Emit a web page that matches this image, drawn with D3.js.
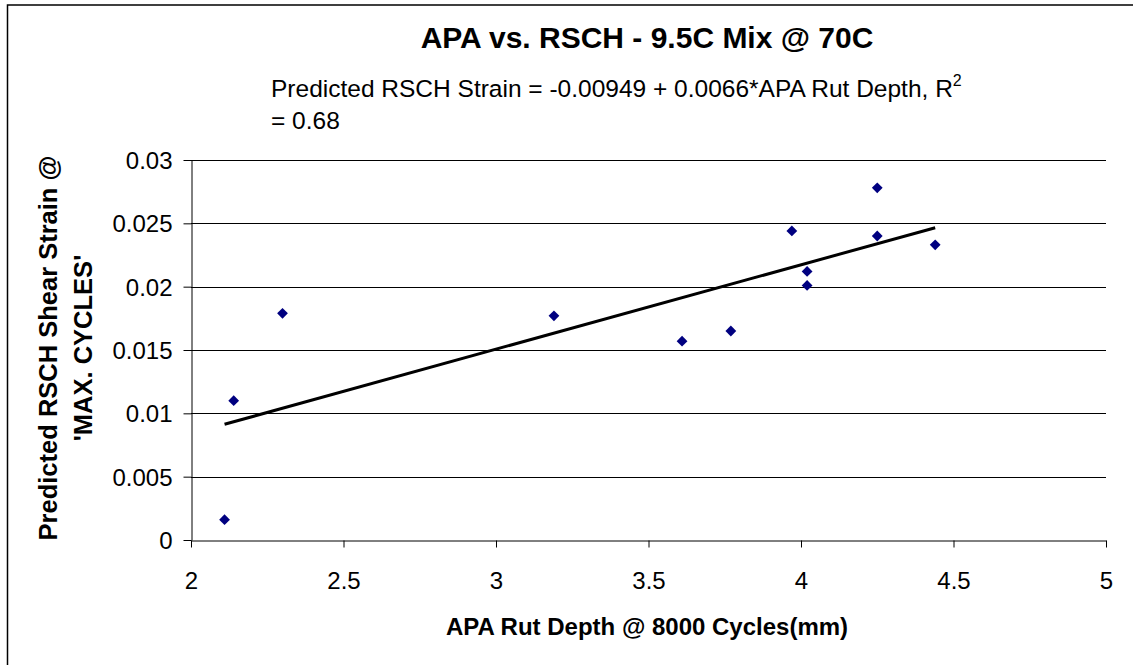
<!DOCTYPE html>
<html>
<head>
<meta charset="utf-8">
<script src="https://cdn.jsdelivr.net/npm/d3@7"></script>
<style>
  body { margin: 0; background: #fff; }
  text { font-family: "Liberation Sans", Arial, sans-serif; fill: #000; }
</style>
</head>
<body>
<svg id="chart"></svg>
<script>
// APA rut depth (mm) vs predicted RSCH shear strain
var rutDepth = [2.11, 2.14, 2.30, 3.19, 3.61, 3.77, 3.97, 4.02, 4.02, 4.25, 4.25, 4.44];
var strain   = [0.0016, 0.0110, 0.0179, 0.0177, 0.0157, 0.0165, 0.0244, 0.0212, 0.0201, 0.0278, 0.0240, 0.0233];
var xTicks = [2, 2.5, 3, 3.5, 4, 4.5, 5];
var yTicks = [0, 0.005, 0.01, 0.015, 0.02, 0.025, 0.03];

var width = 1133, height = 665;
var plotL = 191, plotR = 1106, plotT = 160, plotB = 540;

var svg = d3.select("#chart")
    .attr("width", width)
    .attr("height", height)

// outer chart frame (runs off the right / bottom edge)
svg.append("rect")
    .attr("x", 7.5).attr("y", 5)
    .attr("width", 1140).attr("height", 680)
    .style("fill", "none")
    .style("stroke", "#000")
    .style("stroke-width", 1.5)

var x = d3.scaleLinear().domain([2, 5]).range([plotL, plotR])
var y = d3.scaleLinear().domain([0, 0.03]).range([plotB, plotT])

// gridlines
svg.append("g")
    .selectAll("line")
    .data(yTicks.filter(function(d){ return d > 0; }))
    .enter()
    .append("line")
    .attr("x1", plotL).attr("x2", plotR)
    .attr("y1", function(d){ return Math.round(y(d)) + 0.5; })
    .attr("y2", function(d){ return Math.round(y(d)) + 0.5; })
    .style("stroke", "#000")
    .style("stroke-width", 1)

// axes
var xAxis = svg.append("g")
    .attr("transform", "translate(0," + (plotB + 0.5) + ")")
    .call(d3.axisBottom(x).tickValues(xTicks).tickSize(7).tickSizeOuter(0).tickFormat(d3.format("")))
var yAxis = svg.append("g")
    .attr("transform", "translate(" + (plotL + 0.5) + ",0)")
    .call(d3.axisLeft(y).tickValues(yTicks).tickSize(8).tickSizeOuter(0).tickFormat(d3.format("")))

xAxis.selectAll("path, line").style("stroke", "#000")
yAxis.selectAll("path, line").style("stroke", "#000")
xAxis.selectAll("text")
    .attr("dy", null).attr("y", 48)
    .style("font-size", "24px")
    .style("font-family", "Liberation Sans, Arial, sans-serif")
yAxis.selectAll("text")
    .attr("x", -19).attr("dy", "0.35em")
    .style("font-size", "24px")
    .style("font-family", "Liberation Sans, Arial, sans-serif")

// least squares trendline, as Excel draws it
var n = rutDepth.length
var mx = d3.mean(rutDepth), my = d3.mean(strain)
var sxy = 0, sxx = 0
for (var i = 0; i < n; i++) {
    sxy += (rutDepth[i] - mx) * (strain[i] - my)
    sxx += (rutDepth[i] - mx) * (rutDepth[i] - mx)
}
var slope = sxy / sxx
var icpt = my - slope * mx
var xs = d3.extent(rutDepth)
svg.append("line")
    .attr("x1", x(xs[0])).attr("y1", y(icpt + slope * xs[0]))
    .attr("x2", x(xs[1])).attr("y2", y(icpt + slope * xs[1]))
    .style("stroke", "#000")
    .style("stroke-width", 3)

// points
svg.append("g")
    .selectAll("path")
    .data(rutDepth)
    .enter()
    .append("path")
    .attr("d", d3.symbol().type(d3.symbolSquare).size(58))
    .attr("transform", function(d, i){ return "translate(" + x(d) + "," + y(strain[i]) + ") rotate(45)"; })
    .style("fill", "#000080")

// title
svg.append("text")
    .attr("x", 647).attr("y", 48)
    .attr("text-anchor", "middle")
    .style("font-size", "30px")
    .style("font-weight", "bold")
    .text("APA vs. RSCH - 9.5C Mix @ 70C")

// regression equation
var eq = svg.append("text")
    .attr("x", 271).attr("y", 97)
    .style("font-size", "24.5px")
eq.append("tspan").text("Predicted RSCH Strain = -0.00949 + 0.0066*APA Rut Depth, R")
eq.append("tspan").attr("dy", -11).style("font-size", "16px").text("2")
svg.append("text")
    .attr("x", 271).attr("y", 129)
    .style("font-size", "24.5px")
    .text("= 0.68")

// x axis title
svg.append("text")
    .attr("x", 647).attr("y", 635)
    .attr("text-anchor", "middle")
    .style("font-size", "24px")
    .style("font-weight", "bold")
    .text("APA Rut Depth @ 8000 Cycles(mm)")

// y axis title
var yt = svg.append("text")
    .attr("transform", "translate(0,348) rotate(-90)")
    .attr("text-anchor", "middle")
    .style("font-size", "25.5px")
    .style("font-weight", "bold")
yt.append("tspan").attr("x", 0).attr("y", 57).text("Predicted RSCH Shear Strain @")
yt.append("tspan").attr("x", 0).attr("y", 92).text("'MAX. CYCLES'")
</script>
</body>
</html>
